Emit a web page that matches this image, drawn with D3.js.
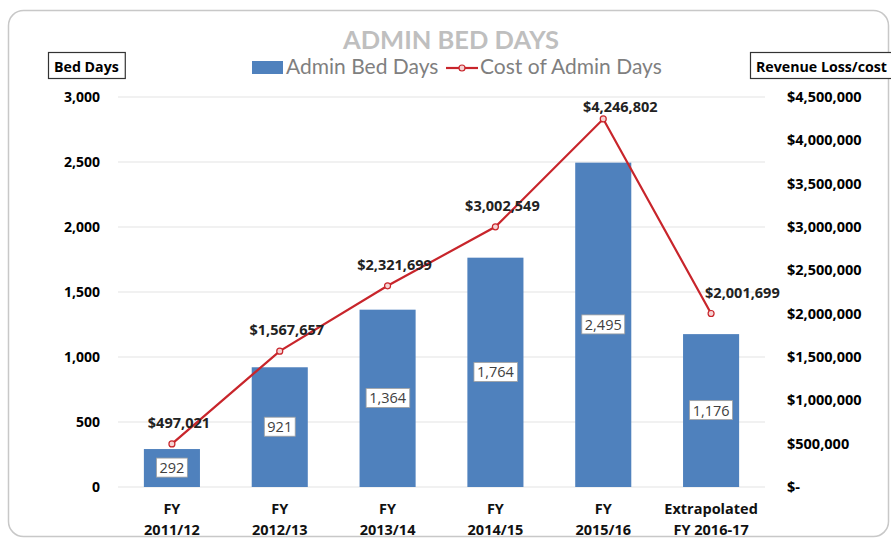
<!DOCTYPE html>
<html><head><meta charset="utf-8">
<script src="https://cdn.jsdelivr.net/npm/d3@7"></script>
<style>body{margin:0;background:#fff;}svg{display:block;font-family:"Open Sans","Noto Sans",sans-serif;}</style>
</head><body><svg id="c" width="891" height="539"></svg>
<script>
const categories = [["FY","2011/12"],["FY","2012/13"],["FY","2013/14"],["FY","2014/15"],["FY","2015/16"],["Extrapolated","FY 2016-17"]];
const bedDays = [292, 921, 1364, 1764, 2495, 1176];
const costs = [497021, 1567657, 2321699, 3002549, 4246802, 2001699];
const leftTicks = [0, 500, 1000, 1500, 2000, 2500, 3000];
const rightTicks = [0, 500000, 1000000, 1500000, 2000000, 2500000, 3000000, 3500000, 4000000, 4500000];

const svg = d3.select("#c");
const m = {l:118, r:765, t:97, b:487};
svg.append("rect").attr("x",8.5).attr("y",10.5).attr("width",880).attr("height",526).attr("rx",15)
  .attr("fill","#fff").attr("stroke","#c8c8c8").attr("stroke-width",1.5);

const x = d3.scaleBand().domain(d3.range(categories.length)).range([m.l,m.r]).paddingInner(0.48).paddingOuter(0.24);
const yL = d3.scaleLinear().domain([0,3000]).range([m.b,m.t]);
const yR = d3.scaleLinear().domain([0,4500000]).range([m.b,m.t]);

// gridlines
svg.append("g").selectAll("line").data(leftTicks).join("line")
  .attr("x1",m.l).attr("x2",m.r).attr("y1",d=>yL(d)).attr("y2",d=>yL(d))
  .attr("stroke","#e3e3e3").attr("stroke-width",1);

// left axis
const fmt = d3.format(",");
const ga = svg.append("g").attr("transform",`translate(${m.l-15},0)`)
  .call(d3.axisLeft(yL).tickValues(leftTicks).tickFormat(fmt).tickSize(0));
ga.select(".domain").remove();
ga.selectAll("text").attr("font-size",14).attr("font-weight","bold").attr("fill","#000").attr("font-family","Open Sans");

// right axis
const rfmt = d => d===0 ? "$-" : "$"+fmt(d);
const gr = svg.append("g").attr("transform",`translate(${m.r+19},0)`)
  .call(d3.axisRight(yR).tickValues(rightTicks).tickFormat(rfmt).tickSize(0));
gr.select(".domain").remove();
gr.selectAll("text").attr("font-size",14.5).attr("font-weight","bold").attr("fill","#000").attr("font-family","Open Sans");

// bars
svg.append("g").selectAll("rect").data(bedDays).join("rect")
  .attr("x",(d,i)=>x(i)).attr("width",x.bandwidth())
  .attr("y",d=>yL(d)).attr("height",d=>yL(0)-yL(d)).attr("fill","#4f81bd");

// bar labels
const bl = svg.append("g").selectAll("g").data(bedDays).join("g")
  .attr("transform",(d,i)=>`translate(${x(i)+x.bandwidth()/2},${(yL(d)+yL(0))/2})`);
bl.append("text").attr("text-anchor","middle").attr("dy","0.35em").attr("font-size",14.5)
  .attr("fill","#404040").text(d=>fmt(d));
bl.each(function(){
  const g = d3.select(this); const bb = g.select("text").node().getBBox();
  g.insert("rect","text").attr("x",bb.x-3).attr("y",bb.y).attr("width",bb.width+6).attr("height",bb.height)
    .attr("fill","#fff").attr("stroke","#a0a0a0").attr("stroke-width",0.8);
});

// line
const cx = i => x(i)+x.bandwidth()/2;
const peak = costs.indexOf(d3.max(costs));
const last = costs.length-1;
svg.append("path").datum(costs)
  .attr("d", d3.line().x((d,i)=>cx(i)).y(d=>yR(d)))
  .attr("fill","none").attr("stroke","#c8252b").attr("stroke-width",2.2);
svg.append("g").selectAll("circle").data(costs).join("circle")
  .attr("cx",(d,i)=>cx(i)).attr("cy",d=>yR(d)).attr("r",3)
  .attr("fill","#f6d4d4").attr("stroke","#c8252b").attr("stroke-width",1.2);
svg.append("g").selectAll("text").data(costs).join("text")
  .attr("x",(d,i)=> i===last ? cx(i)-6 : i===peak ? cx(i)+17 : cx(i)+7)
  .attr("y",(d,i)=> i===peak ? yR(d)-7 : yR(d)-16)
  .attr("text-anchor",(d,i)=> i===last ? "start" : "middle")
  .attr("font-size",14.5).attr("font-weight","bold").attr("fill","#222").text(d=>"$"+fmt(d));

// x labels
const xl = svg.append("g").selectAll("text").data(categories).join("text")
  .attr("text-anchor","middle").attr("font-size",14.5).attr("font-weight","bold").attr("fill","#111");
xl.append("tspan").attr("x",(d,i)=>cx(i)).attr("y",514).text(d=>d[0]);
xl.append("tspan").attr("x",(d,i)=>cx(i)).attr("y",535).text(d=>d[1]);

// title
svg.append("text").attr("x",451).attr("y",49).attr("text-anchor","middle").attr("font-size",25.5)
  .attr("font-weight","bold").attr("fill","#bfbfbf").attr("font-family","Lato").text("ADMIN BED DAYS");

// legend
svg.append("rect").attr("x",252).attr("y",61).attr("width",31).attr("height",13).attr("fill","#4f81bd");
svg.append("text").attr("x",286).attr("y",74).attr("font-size",21).attr("fill","#7f7f7f").attr("font-family","Lato").text("Admin Bed Days");
svg.append("line").attr("x1",446).attr("x2",478).attr("y1",68).attr("y2",68).attr("stroke","#c8252b").attr("stroke-width",2.2);
svg.append("circle").attr("cx",462).attr("cy",68).attr("r",3).attr("fill","#f6d4d4").attr("stroke","#c8252b").attr("stroke-width",1.2);
svg.append("text").attr("x",480).attr("y",74).attr("font-size",21).attr("fill","#7f7f7f").attr("font-family","Lato").text("Cost of Admin Days");

// axis title boxes
function boxTitle(xx, txt){
  const g = svg.append("g");
  const t = g.append("text").attr("x",xx+6).attr("y",72).attr("font-size",14.2).attr("font-weight","bold").attr("fill","#000").text(txt);
  const bb = t.node().getBBox();
  g.insert("rect","text").attr("x",xx+0.5).attr("y",52.5).attr("width",bb.width+12).attr("height",26)
    .attr("fill","#fff").attr("stroke","#333").attr("stroke-width",1.2);
}
boxTitle(48,"Bed Days");
boxTitle(750,"Revenue Loss/cost");
</script></body></html>
